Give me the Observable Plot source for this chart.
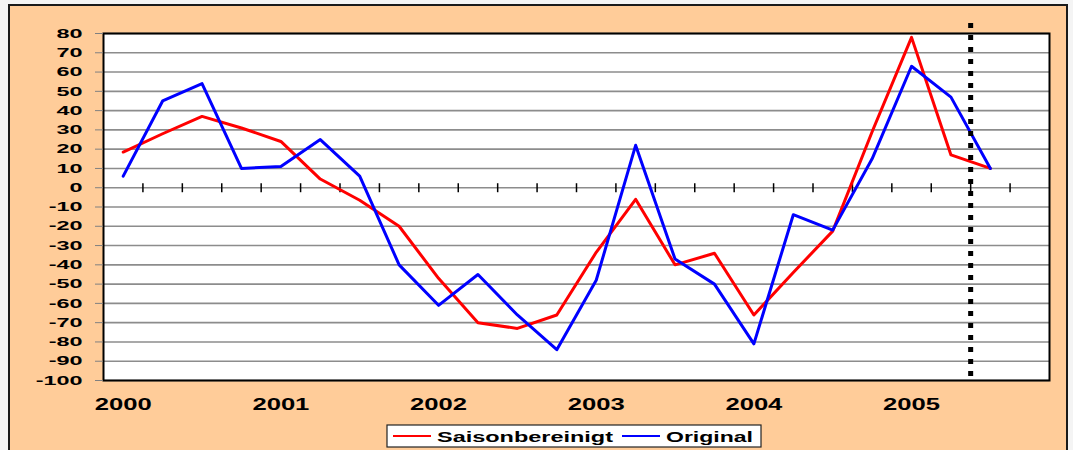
<!DOCTYPE html>
<html><head><meta charset="utf-8">
<script src="https://cdn.jsdelivr.net/npm/d3@7"></script>
<script src="https://cdn.jsdelivr.net/npm/@observablehq/plot@0.6"></script>
<style>
html,body{margin:0;padding:0;background:#f4f4f4;}
#wrap{position:relative;width:1073px;height:450px;overflow:hidden;font-family:"Liberation Sans",Arial,sans-serif;}
#frame{position:absolute;left:8px;top:4px;width:1060px;height:470px;background:#ffcc99;border:2px solid #1a1a1a;box-sizing:border-box;}
#chart{position:absolute;left:0;top:0;}
#legend{position:absolute;left:385px;top:423px;}
</style></head>
<body><div id="wrap"><div id="frame"></div><div id="chart"></div><svg id="legend" width="380" height="27"></svg></div>
<script>
const quarters = ["2000Q1","2000Q2","2000Q3","2000Q4","2001Q1","2001Q2","2001Q3","2001Q4",
  "2002Q1","2002Q2","2002Q3","2002Q4","2003Q1","2003Q2","2003Q3","2003Q4",
  "2004Q1","2004Q2","2004Q3","2004Q4","2005Q1","2005Q2","2005Q3"];
const saisonbereinigt = [18.5, 28, 37, 31, 24, 4.5, -6.5, -20, -47, -70, -73, -66,
  -33.5, -6, -40, -34, -66, -44, -22.5, 29, 78, 17, 10];
const original = [6, 45, 54, 10, 11, 25, 6, -40, -61, -45, -66, -84,
  -48, 22, -37, -50, -81, -14, -22, 15, 63, 47, 10];
const seriesNames = ["Saisonbereinigt", "Original"];
const seriesColors = ["#ff0000", "#0000ff"];
const yearLabels = ["2000","2001","2002","2003","2004","2005"];
const yTicks = [80,70,60,50,40,30,20,10,0,-10,-20,-30,-40,-50,-60,-70,-80,-90,-100];
const markerQuarter = "2005Q3";

const qStart = q => +q.slice(0,4) + (+q.slice(5) - 1) / 4;
const rows = quarters.map((q,i) => ({t: qStart(q) + 0.125, s: saisonbereinigt[i], o: original[i]}));
const x0 = +yearLabels[0], x1 = +yearLabels[yearLabels.length-1] + 1;
const boundaries = d3.range(1, (x1 - x0) * 4).map(k => x0 + k / 4);
const yearCenters = yearLabels.map(y => +y + 0.125);
const tickSymbol = {draw(ctx){ ctx.moveTo(0,-4.5); ctx.lineTo(0,4.5); }};

const chart = Plot.plot({
  width: 1073, height: 450,
  marginLeft: 103, marginRight: 24, marginTop: 33, marginBottom: 70,
  style: {background: "transparent", fontFamily: "'Liberation Sans', Arial, sans-serif", overflow: "visible"},
  x: {domain: [x0, x1], label: null},
  y: {domain: [yTicks[yTicks.length-1], yTicks[0]], label: null},
  marks: [
    Plot.frame({fill: "white"}),
    Plot.ruleY(yTicks, {stroke: "#8c8c8c", strokeWidth: 1.6}),
    Plot.dot(boundaries, {x: d => d, y: 0, symbol: tickSymbol, stroke: "black", strokeWidth: 1.5, fill: "none"}),
    Plot.line(rows, {x: "t", y: "s", stroke: seriesColors[0], strokeWidth: 3}),
    Plot.line(rows, {x: "t", y: "o", stroke: seriesColors[1], strokeWidth: 3}),
    Plot.ruleX([qStart(markerQuarter)], {y1: -100, y2: 86, stroke: "black", strokeWidth: 5, strokeDasharray: "5,7", strokeDashoffset: 8}),
    Plot.frame({stroke: "#000", strokeWidth: 2}),
    Plot.axisY(yTicks, {tickSize: 8, tickPadding: 13, stroke: "#808080", fill: "black", fontSize: 13, fontWeight: "bold", tickFormat: d => String(d), label: null}),
    Plot.axisX(yearCenters, {tickSize: 0, tickPadding: 18, fill: "black", fontSize: 16, fontWeight: "bold", tickFormat: (d, i) => yearLabels[i], label: null})
  ]
});
document.getElementById("chart").appendChild(chart);

function stretch(sel, s) {
  chart.querySelectorAll(sel).forEach(t => {
    const w = t.getComputedTextLength();
    if (w > 0) {
      t.setAttribute("textLength", (w * s).toFixed(2));
      t.setAttribute("lengthAdjust", "spacingAndGlyphs");
    }
  });
}
stretch('[aria-label="y-axis tick label"] text', 1.8);
stretch('[aria-label="x-axis tick label"] text', 1.6);

// legend
const lg = d3.select("#legend");
lg.append("rect").attr("x", 2).attr("y", 2).attr("width", 374).attr("height", 22)
  .attr("fill", "white").attr("stroke", "#222").attr("stroke-width", 1.2);
const items = [{x: 8, w: 176}, {x: 237, w: 87}];
seriesNames.forEach((name, i) => {
  const it = items[i];
  lg.append("line").attr("x1", it.x).attr("x2", it.x + 38).attr("y1", 13).attr("y2", 13)
    .attr("stroke", seriesColors[i]).attr("stroke-width", 2);
  lg.append("text").attr("x", it.x + 44).attr("y", 18.5).text(name)
    .attr("font-family", "'Liberation Sans', Arial, sans-serif").attr("font-weight", "bold")
    .attr("font-size", 14).attr("textLength", it.w).attr("lengthAdjust", "spacingAndGlyphs");
});
</script></body></html>
